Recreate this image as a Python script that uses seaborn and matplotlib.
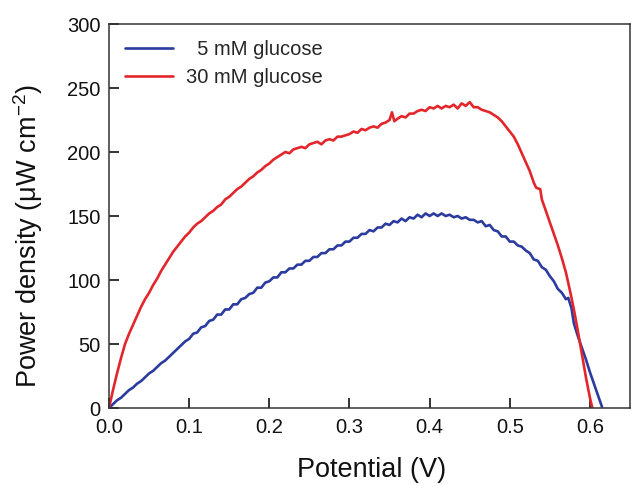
import numpy as np
import pandas as pd
import matplotlib
matplotlib.use("Agg")
import matplotlib.pyplot as plt
import seaborn as sns

# ---- data ----
v_5mM = [0.000, 0.005, 0.010, 0.015, 0.020, 0.025, 0.030, 0.035, 0.040, 0.045,
         0.050, 0.055, 0.060, 0.065, 0.070, 0.075, 0.080, 0.085, 0.090, 0.095,
         0.100, 0.105, 0.110, 0.115, 0.120, 0.125, 0.130, 0.135, 0.140, 0.145,
         0.150, 0.155, 0.160, 0.165, 0.170, 0.175, 0.180, 0.185, 0.190, 0.195,
         0.200, 0.205, 0.210, 0.215, 0.220, 0.225, 0.230, 0.235, 0.240, 0.245,
         0.250, 0.255, 0.260, 0.265, 0.270, 0.275, 0.280, 0.285, 0.290, 0.295,
         0.300, 0.305, 0.310, 0.315, 0.320, 0.325, 0.330, 0.335, 0.340, 0.345,
         0.350, 0.355, 0.360, 0.365, 0.370, 0.375, 0.380, 0.385, 0.390, 0.395,
         0.400, 0.405, 0.410, 0.415, 0.420, 0.425, 0.430, 0.435, 0.440, 0.445,
         0.450, 0.455, 0.460, 0.465, 0.470, 0.475, 0.480, 0.485, 0.490, 0.495,
         0.500, 0.505, 0.510, 0.515, 0.520, 0.525, 0.530, 0.535, 0.540, 0.545,
         0.550, 0.555, 0.560, 0.565, 0.570, 0.573, 0.577, 0.580, 0.585, 0.590,
         0.595, 0.600, 0.605, 0.610, 0.615]
p_5mM = [0, 3, 6, 8, 11, 14, 16, 19, 21, 24,
         27, 29, 32, 35, 37, 40, 43, 46, 49, 52,
         54, 58, 59, 63, 64, 68, 69, 73, 73, 77,
         77, 81, 81, 85, 86, 89, 90, 94, 94, 98,
         99, 102, 102, 106, 106, 109, 109, 112, 112, 115,
         115, 118, 118, 121, 121, 124, 124, 127, 127, 130,
         130, 133, 133, 136, 136, 139, 138, 141, 141, 144,
         143, 146, 145, 148, 146, 149, 148, 151, 149, 152,
         150, 152, 150, 152, 150, 151, 149, 150, 148, 149,
         147, 147, 145, 146, 142, 143, 139, 138, 134, 134,
         130, 130, 127, 126, 123, 121, 116, 115, 110, 108,
         103, 99, 93, 90, 85, 86, 78, 66, 56, 47,
         38, 28, 19, 10, 1]

v_30mM = [0.000, 0.005, 0.010, 0.015, 0.020, 0.025, 0.030, 0.035, 0.040, 0.045,
          0.050, 0.055, 0.060, 0.065, 0.070, 0.075, 0.080, 0.085, 0.090, 0.095,
          0.100, 0.105, 0.110, 0.115, 0.120, 0.125, 0.130, 0.135, 0.140, 0.145,
          0.150, 0.155, 0.160, 0.165, 0.170, 0.175, 0.180, 0.185, 0.190, 0.195,
          0.200, 0.205, 0.210, 0.215, 0.220, 0.225, 0.230, 0.235, 0.240, 0.245,
          0.250, 0.255, 0.260, 0.265, 0.270, 0.275, 0.280, 0.285, 0.290, 0.295,
          0.300, 0.305, 0.310, 0.315, 0.320, 0.325, 0.330, 0.335, 0.340, 0.345,
          0.350, 0.353, 0.356, 0.360, 0.365, 0.370, 0.375, 0.380, 0.385, 0.390,
          0.395, 0.400, 0.405, 0.410, 0.415, 0.420, 0.425, 0.430, 0.435, 0.440,
          0.445, 0.450, 0.455, 0.460, 0.465, 0.470, 0.475, 0.480, 0.485, 0.490,
          0.495, 0.500, 0.505, 0.510, 0.515, 0.520, 0.525, 0.530, 0.533, 0.538,
          0.540, 0.545, 0.550, 0.555, 0.560, 0.565, 0.570, 0.575, 0.580, 0.585,
          0.590, 0.595, 0.600, 0.603]
p_30mM = [0, 14, 27, 39, 50, 58, 65, 72, 79, 85,
          90, 96, 101, 107, 112, 117, 122, 126, 130, 134,
          137, 141, 144, 146, 149, 152, 154, 157, 159, 163,
          165, 168, 171, 173, 176, 179, 181, 184, 186, 189,
          191, 194, 196, 198, 200, 199, 202, 203, 204, 203,
          206, 207, 208, 206, 209, 210, 209, 212, 212, 213,
          214, 216, 215, 218, 217, 219, 220, 219, 222, 223,
          225, 231, 224, 226, 228, 227, 230, 230, 232, 233,
          232, 235, 234, 236, 234, 236, 235, 237, 234, 238,
          236, 239, 235, 235, 233, 232, 231, 229, 227, 224,
          220, 216, 212, 206, 199, 192, 185, 176, 172, 171,
          163, 154, 145, 136, 127, 117, 106, 92, 77, 60,
          42, 24, 8, 0]

labels = ["  5 mM glucose", "30 mM glucose"]
colors = ["#2b3b9e", "#e3262b"]
x_ticks = [0.0, 0.1, 0.2, 0.3, 0.4, 0.5, 0.6]
x_tick_labels = ["0.0", "0.1", "0.2", "0.3", "0.4", "0.5", "0.6"]
y_ticks = [0, 50, 100, 150, 200, 250, 300]

df = pd.concat([
    pd.DataFrame({"Potential": v_5mM, "Power": p_5mM, "Series": labels[0]}),
    pd.DataFrame({"Potential": v_30mM, "Power": p_30mM, "Series": labels[1]}),
], ignore_index=True)

sns.set_theme(style="ticks")
plt.rcParams["font.family"] = ["Liberation Sans", "DejaVu Sans"]
plt.rcParams["mathtext.fontset"] = "custom"
plt.rcParams["mathtext.rm"] = "Liberation Sans"
plt.rcParams["mathtext.it"] = "Liberation Sans"

fig = plt.figure(figsize=(6.31, 4.84), dpi=100)
ax = fig.add_axes([109 / 631, 1 - 408 / 484, 521 / 631, 384 / 484])

sns.lineplot(data=df, x="Potential", y="Power", hue="Series",
             palette=colors, linewidth=1.9, ax=ax, sort=False,
             estimator=None)

ax.set_xlim(0, 0.65)
ax.set_ylim(0, 300)
ax.set_xticks(x_ticks)
ax.set_xticklabels(x_tick_labels)
ax.set_yticks(y_ticks)
ax.tick_params(axis="both", which="major", direction="in", length=7,
               width=1.4, color="#333333", labelsize=14.5,
               labelcolor="#111111", bottom=True, left=True,
               top=False, right=False)
ax.tick_params(axis="x", pad=7)
ax.tick_params(axis="y", pad=6)
for s in ax.spines.values():
    s.set_linewidth(1.1)
    s.set_color("#333333")

ax.set_xlabel("Potential (V)", fontsize=19.5, color="#111111")
ax.set_ylabel("Power density (μW cm$^{-2}$)", fontsize=19.5, color="#111111")
ax.xaxis.set_label_coords(0.503, -0.161)
ax.xaxis.label.set_va("center")
ax.yaxis.set_label_coords(-0.155, 0.449)
ax.yaxis.label.set_va("center")

leg = ax.legend(loc="upper left", frameon=False, fontsize=14.5,
                handlelength=2.4, handletextpad=0.6, labelspacing=0.45,
                borderaxespad=0.4, bbox_to_anchor=(0.0, 1.0))
for line in leg.get_lines():
    line.set_linewidth(1.9)

fig.savefig("out.png", dpi=100)
